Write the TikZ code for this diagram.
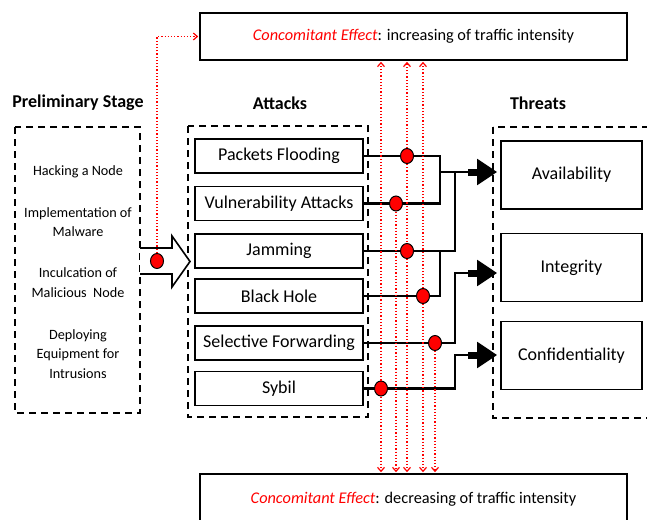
\documentclass[tikz,border=0pt]{standalone}
\usepackage{fontspec}
\setmainfont{Carlito}
\usetikzlibrary{arrows.meta,shapes.geometric}
\begin{document}
\begin{tikzpicture}[x=1pt,y=-1pt,
 box/.style={draw,line width=1.6pt,inner sep=0pt,font=\fontsize{18}{20}\selectfont},
 atk/.style={box,minimum width=168pt,minimum height=34pt},
 thr/.style={box,minimum width=141pt,minimum height=68pt},
 eff/.style={box,minimum width=427pt,font=\fontsize{16.3}{19}\selectfont},
 dbox/.style={draw,line width=1.6pt,dash pattern=on 7pt off 5pt},
 title/.style={font=\fontsize{18}{20}\selectfont\bfseries},
 ptext/.style={font=\fontsize{14.2}{19.5}\selectfont,align=center},
 conn/.style={line width=2.4pt},
 dot/.style={ellipse,draw,line width=1pt,fill=red,minimum width=13pt,minimum height=15pt,inner sep=0pt},
 rarr/.style={red,dotted,line width=1.2pt,-{Straight Barb[length=4pt,width=7pt]},shorten >=1pt},
 rline/.style={red,dotted,line width=1.2pt},
 bigarr/.style={line width=7pt,-{Triangle[length=20pt,width=25pt]},shorten >=3pt}
]
\useasboundingbox (0,0) rectangle (647,519);
\clip (0,0) rectangle (647,519);

% effect boxes
\node[eff,minimum height=47pt] (top) at (413.5,36.5)
  {\textcolor{red}{\textit{Concomitant Effect}}: increasing of traffic intensity};
\node[eff,minimum height=50pt] (bot) at (413.5,499)
  {\textcolor{red}{\textit{Concomitant Effect}}: decreasing of traffic intensity};

% titles
\node[title] (tp) at (78,103) {Preliminary Stage};
\node[title] (ta) at (280,103) {Attacks};
\node[title] (tt) at (538,103) {Threats};

% dashed frames
\draw[dbox] (15,127) rectangle (140,413);
\draw[dbox] (188,126) rectangle (368,417);
\draw[dbox] (493,127) rectangle (670,418);

% preliminary texts
\node[ptext] (p1) at (78,172) {Hacking a Node};
\node[ptext] (p2) at (78,222) {Implementation of\\Malware};
\node[ptext] (p3) at (78,282.5) {Inculcation of\\Malicious\ \ Node};
\node[ptext] (p4) at (78,354) {Deploying\\Equipment for\\Intrusions};

% block arrow
\draw[line width=1.6pt,fill=white] (140,248) -- (172,248) -- (172,236) -- (190,261.5)
   -- (172,287) -- (172,274) -- (140,274);

% attack boxes
\node[atk] (pf) at (279,156) {Packets Flooding};
\node[atk] (va) at (279,203.5) {Vulnerability Attacks};
\node[atk] (jm) at (279,251) {Jamming};
\node[atk] (bh) at (279,296) {Black Hole};
\node[atk] (sf) at (279,343) {Selective Forwarding};
\node[atk] (sy) at (279,388.5) {Sybil};

% threat boxes
\node[thr] (av) at (571.5,175) {Availability};
\node[thr] (in) at (571.5,267.5) {Integrity};
\node[thr] (co) at (571.5,355.5) {Confidentiality};

% junction coordinates
\coordinate (b1) at (440,0);
\coordinate (b2) at (455,0);
\coordinate (aA) at (468,172);
\coordinate (iA) at (468,273);
\coordinate (cA) at (468,355);

% connectors
\draw[conn] (pf.east) -| (b1 |- va.east) -- (va.east);
\draw[conn] (b1 |- aA) -- (aA);
\draw[conn] (bh.east) -| (b1 |- jm.east);
\draw[conn] (jm.east) -| (b2 |- aA);
\draw[conn] (sf.east) -| (b2 |- iA) -- (iA);
\draw[conn] (sy.east) -| (b2 |- cA) -- (cA);
\draw[bigarr] (aA) -- (av.west |- aA);
\draw[bigarr] (iA) -- (in.west |- iA);
\draw[bigarr] (cA) -- (co.west |- cA);

% dots
\node[dot] (dPr) at (157,261) {};
\node[dot] (dPF) at (407,156) {};
\node[dot] (dVA) at (396,203.5) {};
\node[dot] (dJM) at (407,251) {};
\node[dot] (dBH) at (423,296) {};
\node[dot] (dSF) at (435,343) {};
\node[dot] (dSy) at (381,388.5) {};

% red dotted lines
\draw[rarr] (dPr.north) |- (top.west);
\draw[rarr] (dSy.north) -- (dSy |- top.south);
\draw[rarr] (dSy.south) -- (dSy |- bot.north);
\draw[rarr] (dPF.north) -- (dPF |- top.south);
\draw[rline] (dPF.south) -- (dJM.north);
\draw[rarr] (dJM.south) -- (dJM |- bot.north);
\draw[rarr] (dBH.north) -- (dBH |- top.south);
\draw[rarr] (dBH.south) -- (dBH |- bot.north);
\draw[rarr] (dVA.south) -- (dVA |- bot.north);
\draw[rarr] (dSF.south) -- (dSF |- bot.north);
\end{tikzpicture}
\end{document}
